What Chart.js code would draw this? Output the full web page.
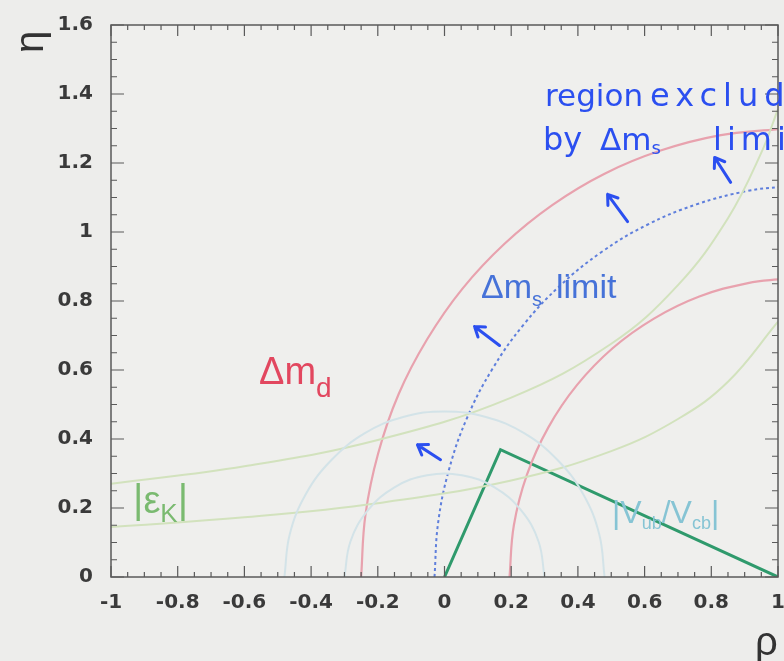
<!DOCTYPE html>
<html>
<head>
<meta charset="utf-8">
<script src="https://cdn.jsdelivr.net/npm/chart.js@4.4.1/dist/chart.umd.min.js"></script>
<style>
  html, body { margin: 0; padding: 0; background: #ededeb; }
  #wrap { width: 784px; height: 661px; }
</style>
</head>
<body>
<div id="wrap"><canvas id="chart" width="784" height="661"></canvas></div>
<script>
// tick labels
const xTicks = [-1, -0.8, -0.6, -0.4, -0.2, 0, 0.2, 0.4, 0.6, 0.8, 1];
const yTicks = [0, 0.2, 0.4, 0.6, 0.8, 1, 1.2, 1.4, 1.6];

// curves, [rho, eta]
const dmdOuter = [[-0.25, 0], [-0.237, 0.181], [-0.199, 0.358], [-0.138, 0.529], [-0.052, 0.689],
  [0.054, 0.836], [0.18, 0.966], [0.323, 1.078], [0.48, 1.169], [0.648, 1.236], [0.824, 1.28], [1.005, 1.299]];
const dmdInner = [[0.195, 0], [0.208, 0.15], [0.247, 0.296], [0.311, 0.433], [0.397, 0.556],
  [0.504, 0.663], [0.628, 0.749], [0.764, 0.813], [0.91, 0.852], [1.015, 0.864]];
const dmsLimit = [[-0.03, 0], [-0.019, 0.158], [0.014, 0.313], [0.068, 0.462], [0.143, 0.602],
  [0.236, 0.73], [0.346, 0.844], [0.471, 0.942], [0.608, 1.021], [0.755, 1.08], [0.908, 1.119], [1.007, 1.131]];
const epsUpper = [[-1, 0.27], [-0.6, 0.321], [-0.2, 0.397], [0.2, 0.52], [0.5, 0.676], [0.7, 0.846],
  [0.85, 1.04], [0.95, 1.23], [1.0, 1.356]];
const epsLower = [[-1, 0.145], [-0.6, 0.173], [-0.2, 0.214], [0.2, 0.28], [0.5, 0.365], [0.7, 0.458],
  [0.85, 0.566], [1.0, 0.74]];
const vubOuter = [[-0.48, 0], [-0.464, 0.124], [-0.416, 0.24], [-0.339, 0.339], [-0.24, 0.416],
  [-0.124, 0.464], [0, 0.48], [0.124, 0.464], [0.24, 0.416], [0.339, 0.339], [0.416, 0.24], [0.464, 0.124], [0.48, 0]];
const vubInner = [[-0.3, 0], [-0.282, 0.103], [-0.23, 0.193], [-0.15, 0.26], [-0.052, 0.295],
  [0.052, 0.295], [0.15, 0.26], [0.23, 0.193], [0.282, 0.103], [0.3, 0]];
const triangle = [[0, 0], [0.168, 0.369], [1, 0]];

// hand drawn arrows: [tipRho, tipEta, tailRho, tailEta]
const arrows = [
  [-0.081, 0.383, -0.012, 0.34],
  [0.09, 0.726, 0.165, 0.671],
  [0.489, 1.109, 0.549, 1.03],
  [0.81, 1.216, 0.858, 1.144],
];

const toXY = (pts) => pts.map((p) => ({ x: p[0], y: p[1] }));

function curve(pts, color, width, extra) {
  return Object.assign({
    data: toXY(pts),
    showLine: true,
    borderColor: color,
    borderWidth: width,
    pointRadius: 0,
    tension: 0.4,
    fill: false,
  }, extra || {});
}

const tickFont = { family: "'DejaVu Sans', sans-serif", size: 20, weight: "bold" };

function drawRich(ctx, parts, x, y, color) {
  ctx.fillStyle = color;
  ctx.textBaseline = "alphabetic";
  ctx.textAlign = "left";
  parts.forEach((p) => {
    ctx.font = p.font;
    ctx.letterSpacing = p.ls || "0px";
    ctx.fillText(p.t, x + (p.dx || 0), y + (p.dy || 0));
    x += ctx.measureText(p.t).width + (p.dx || 0);
  });
  ctx.letterSpacing = "0px";
}

const decorPlugin = {
  id: "decor",
  beforeDraw(chart) {
    const { ctx, chartArea: a } = chart;
    ctx.save();
    ctx.fillStyle = "#ededeb";
    ctx.fillRect(0, 0, chart.width, chart.height);
    ctx.fillStyle = "#efefed";
    ctx.fillRect(a.left, a.top, a.right - a.left, a.bottom - a.top);
    ctx.restore();
  },
  afterDraw(chart) {
    const { ctx, chartArea: a, scales } = chart;
    const xs = scales.x, ys = scales.y;
    ctx.save();
    // frame
    ctx.strokeStyle = "#5a5a5a";
    ctx.lineWidth = 1.5;
    ctx.strokeRect(a.left, a.top, a.right - a.left, a.bottom - a.top);
    // inward ticks
    ctx.lineWidth = 1.2;
    ctx.beginPath();
    for (let i = 0; i <= 40; i++) {
      const px = xs.getPixelForValue(-1 + i * 0.05);
      const len = i % 4 === 0 ? 11 : 5;
      ctx.moveTo(px, a.bottom); ctx.lineTo(px, a.bottom - len);
      ctx.moveTo(px, a.top); ctx.lineTo(px, a.top + len);
    }
    for (let i = 0; i <= 32; i++) {
      const py = ys.getPixelForValue(i * 0.05);
      const len = i % 4 === 0 ? 13 : 6;
      ctx.moveTo(a.left, py); ctx.lineTo(a.left + len, py);
      ctx.moveTo(a.right, py); ctx.lineTo(a.right - len, py);
    }
    ctx.stroke();

    // arrows
    const blue = "#2b4ff0";
    ctx.strokeStyle = blue;
    ctx.lineWidth = 3;
    ctx.lineCap = "round";
    arrows.forEach((ar) => {
      const tx = xs.getPixelForValue(ar[0]), ty = ys.getPixelForValue(ar[1]);
      const bx = xs.getPixelForValue(ar[2]), by = ys.getPixelForValue(ar[3]);
      const ang = Math.atan2(ty - by, tx - bx);
      ctx.beginPath();
      ctx.moveTo(bx, by); ctx.lineTo(tx, ty);
      ctx.moveTo(tx, ty); ctx.lineTo(tx - 11 * Math.cos(ang - 0.6), ty - 11 * Math.sin(ang - 0.6));
      ctx.moveTo(tx, ty); ctx.lineTo(tx - 11 * Math.cos(ang + 0.6), ty - 11 * Math.sin(ang + 0.6));
      ctx.stroke();
    });

    const sans = "'Liberation Sans', Arial, sans-serif";
    // labels
    drawRich(ctx, [
      { t: "\u0394m", font: "38px " + sans },
      { t: "d", font: "28px " + sans, dy: 13 },
    ], 259, 384, "#e2475f");
    drawRich(ctx, [
      { t: "\u0394m", font: "34px " + sans },
      { t: "s", font: "20px " + sans, dy: 8 },
    ], 481, 298, "#4672d8");
    drawRich(ctx, [{ t: "limit", font: "34px " + sans }], 556, 298, "#4672d8");
    drawRich(ctx, [
      { t: "|", font: "40px " + sans },
      { t: "\u03b5", font: "38px " + sans },
      { t: "K", font: "26px " + sans, dy: 9 },
      { t: "|", font: "40px " + sans },
    ], 133, 513, "#7aba70");
    drawRich(ctx, [
      { t: "|V", font: "32px " + sans },
      { t: "ub", font: "18px " + sans, dy: 6 },
      { t: "/V", font: "32px " + sans },
      { t: "cb", font: "18px " + sans, dy: 6 },
      { t: "|", font: "32px " + sans },
    ], 612, 523, "#86c4d4");

    // handwritten note
    const hand = (px) => px + "px 'DejaVu Sans', sans-serif";
    drawRich(ctx, [{ t: "region", font: hand(31) }], 545, 106, blue);
    drawRich(ctx, [{ t: "excluded", font: hand(32), ls: "6px" }], 650, 106, blue);
    drawRich(ctx, [{ t: "by", font: hand(32) }], 543, 150, blue);
    drawRich(ctx, [
      { t: "\u0394m", font: hand(31) },
      { t: "s", font: hand(18), dy: 4 },
    ], 600, 150, blue);
    drawRich(ctx, [{ t: "limit", font: hand(32), ls: "5px" }], 713, 150, blue);

    // axis titles
    ctx.fillStyle = "#333";
    ctx.font = "40px " + sans;
    ctx.textAlign = "center";
    ctx.textBaseline = "middle";
    ctx.save();
    ctx.translate(32, 42);
    ctx.rotate(-Math.PI / 2);
    ctx.fillText("\u03b7", 0, 0);
    ctx.restore();
    ctx.textAlign = "left";
    ctx.textBaseline = "alphabetic";
    ctx.fillText("\u03c1", 755, 655);
    ctx.restore();
  },
};

function noPad(s) {
  s.paddingLeft = 0; s.paddingRight = 0; s.paddingTop = 0; s.paddingBottom = 0;
}

new Chart(document.getElementById("chart"), {
  type: "scatter",
  data: {
    datasets: [
      curve(vubOuter, "#d3e3e8", 2),
      curve(vubInner, "#d3e3e8", 2),
      curve(epsUpper, "#d2e2bd", 2),
      curve(epsLower, "#d2e2bd", 2),
      curve(dmdOuter, "#e8a2ae", 2.2),
      curve(dmdInner, "#e8a2ae", 2.2),
      curve(dmsLimit, "#5f7fdc", 2, { borderDash: [3, 3] }),
      curve(triangle, "#2f9a6c", 3, { tension: 0 }),
    ],
  },
  options: {
    responsive: false,
    animation: false,
    devicePixelRatio: 1,
    layout: { padding: { top: 25, right: 6, left: 0, bottom: 0 } },
    plugins: { legend: { display: false }, tooltip: { enabled: false } },
    scales: {
      x: {
        type: "linear",
        min: -1,
        max: 1,
        afterBuildTicks: (s) => { s.ticks = xTicks.map((v) => ({ value: v })); },
        afterFit: (s) => { s.height = 84; noPad(s); },
        grid: { display: false, drawTicks: false },
        border: { display: false },
        ticks: { font: tickFont, color: "#3a3a3a", padding: 14, maxRotation: 0, autoSkip: false,
          callback: (v) => String(Math.round(v * 10) / 10) },
      },
      y: {
        type: "linear",
        min: 0,
        max: 1.6,
        afterBuildTicks: (s) => { s.ticks = yTicks.map((v) => ({ value: v })); },
        afterFit: (s) => { s.width = 111; noPad(s); },
        grid: { display: false, drawTicks: false },
        border: { display: false },
        ticks: { font: tickFont, color: "#3a3a3a", padding: 18, autoSkip: false,
          callback: (v) => String(Math.round(v * 10) / 10) },
      },
    },
  },
  plugins: [decorPlugin],
});
</script>
</body>
</html>
